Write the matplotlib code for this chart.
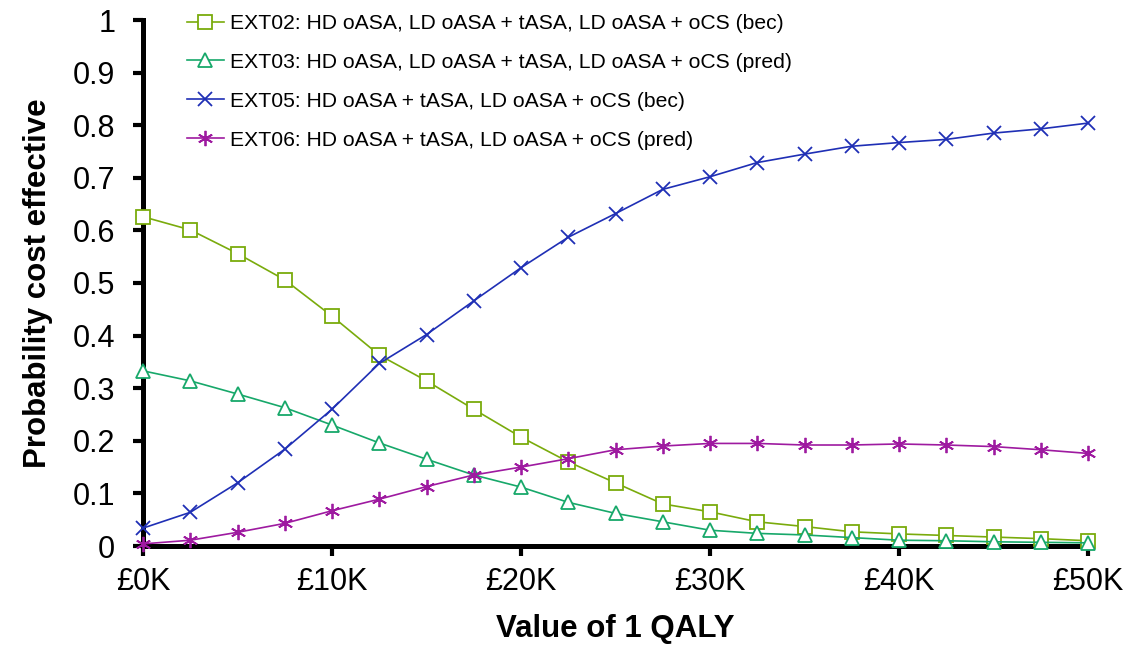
import numpy as np
import matplotlib
matplotlib.use("Agg")
import matplotlib.pyplot as plt

plt.rcParams['font.family'] = ['Liberation Sans', 'DejaVu Sans']

# Willingness-to-pay thresholds (£ thousands per QALY)
wtp_k = [0, 2.5, 5, 7.5, 10, 12.5, 15, 17.5, 20, 22.5, 25, 27.5, 30,
         32.5, 35, 37.5, 40, 42.5, 45, 47.5, 50]

ext02 = [0.626, 0.601, 0.556, 0.506, 0.437, 0.363, 0.314, 0.260, 0.207,
         0.160, 0.120, 0.080, 0.065, 0.046, 0.037, 0.027, 0.023, 0.020,
         0.017, 0.014, 0.010]
ext03 = [0.333, 0.314, 0.289, 0.263, 0.230, 0.196, 0.165, 0.135, 0.112,
         0.083, 0.062, 0.046, 0.030, 0.024, 0.021, 0.016, 0.011, 0.010,
         0.008, 0.007, 0.006]
ext05 = [0.034, 0.064, 0.120, 0.184, 0.260, 0.347, 0.402, 0.466, 0.529,
         0.587, 0.632, 0.678, 0.702, 0.729, 0.745, 0.760, 0.767, 0.773,
         0.785, 0.793, 0.804]
ext06 = [0.004, 0.011, 0.026, 0.043, 0.067, 0.089, 0.113, 0.135, 0.150,
         0.166, 0.183, 0.190, 0.195, 0.195, 0.192, 0.192, 0.194, 0.192,
         0.189, 0.183, 0.176]

labels = [
    "EXT02: HD oASA, LD oASA + tASA, LD oASA + oCS (bec)",
    "EXT03: HD oASA, LD oASA + tASA, LD oASA + oCS (pred)",
    "EXT05: HD oASA + tASA, LD oASA + oCS (bec)",
    "EXT06: HD oASA + tASA, LD oASA + oCS (pred)",
]

x_ticks = [0, 10, 20, 30, 40, 50]
x_tick_labels = ["£0K", "£10K", "£20K", "£30K", "£40K", "£50K"]
y_ticks = [0, 0.1, 0.2, 0.3, 0.4, 0.5, 0.6, 0.7, 0.8, 0.9, 1.0]
y_tick_labels = ["0", "0.1", "0.2", "0.3", "0.4", "0.5", "0.6", "0.7",
                 "0.8", "0.9", "1"]

fig = plt.figure(figsize=(11.3, 6.47), dpi=100)
ax = fig.add_axes([143 / 1130, 1 - 546 / 647, (1088 - 143) / 1130,
                   (546 - 20) / 647])

styles = [
    dict(color="#7AAB0C", marker="s", markersize=10.5,
         markerfacecolor="white", markeredgewidth=1.3),
    dict(color="#17A86A", marker="^", markersize=10.5,
         markerfacecolor="white", markeredgewidth=1.3),
    dict(color="#1F2FB5", marker="x", markersize=10.5, markeredgewidth=1.3),
    dict(color="#9E1AA0", marker=(6, 2, 0), markersize=11,
         markeredgewidth=1.3),
]

for series, label, st in zip([ext02, ext03, ext05, ext06], labels, styles):
    ax.plot(wtp_k, series, linewidth=1.2, label=label, clip_on=False,
            zorder=4, **st)

ax.set_xlim(0, 50)
ax.set_ylim(0, 1)
ax.set_xticks(x_ticks)
ax.set_xticklabels(x_tick_labels)
ax.set_yticks(y_ticks)
ax.set_yticklabels(y_tick_labels)

for side in ("top", "right"):
    ax.spines[side].set_visible(False)
for side in ("left", "bottom"):
    ax.spines[side].set_linewidth(3.6)
    ax.spines[side].set_zorder(3)

ax.tick_params(axis="both", direction="out", length=7, width=3,
               labelsize=22, colors="black")
ax.tick_params(axis="y", pad=13)
ax.tick_params(axis="x", pad=8)

ax.set_xlabel("Value of 1 QALY", fontsize=22.5, fontweight="bold",
              labelpad=12)
ax.set_ylabel("Probability cost effective", fontsize=22.5, fontweight="bold",
              labelpad=14)

leg = ax.legend(loc="upper left", bbox_to_anchor=(187 / 1130, 1 - 14 / 647),
                bbox_transform=fig.transFigure, frameon=False, fontsize=15.2,
                handlelength=1.75, handletextpad=0.3, labelspacing=0.94,
                borderaxespad=0, borderpad=0)

fig.savefig("out.png", dpi=100)
